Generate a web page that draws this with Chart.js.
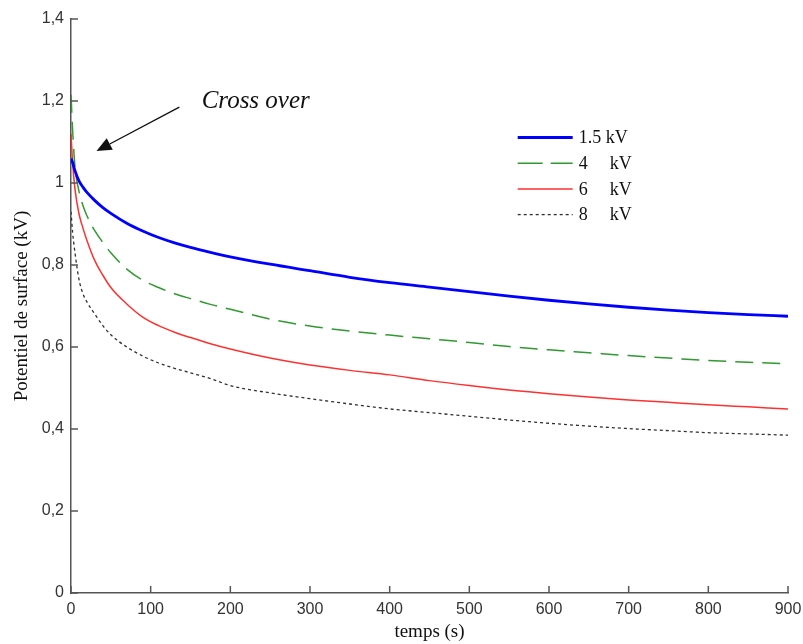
<!DOCTYPE html>
<html><head><meta charset="utf-8">
<script src="https://cdn.jsdelivr.net/npm/chart.js@4"></script>
<style>html,body{margin:0;padding:0;background:#fff}#wrap{width:803px;height:644px;position:relative}</style>
</head><body><div id="wrap"><canvas id="c"></canvas></div>
<script>
const times = [0,2,5,10,15,20,30,40,50,70,90,110,130,150,175,200,250,300,350,400,450,500,550,600,650,700,750,800,850,900];
const v15 = [1.06,1.05,1.03,1.005,0.99,0.977,0.957,0.94,0.926,0.902,0.883,0.867,0.854,0.843,0.831,0.82,0.802,0.786,0.77,0.757,0.746,0.735,0.724,0.714,0.705,0.697,0.69,0.684,0.679,0.675];
const v4 = [1.215,1.13,1.04,0.98,0.945,0.92,0.883,0.855,0.83,0.79,0.763,0.745,0.73,0.718,0.704,0.692,0.668,0.651,0.639,0.629,0.62,0.611,0.601,0.593,0.586,0.579,0.573,0.567,0.563,0.559];
const v6 = [1.12,1.05,0.985,0.925,0.89,0.86,0.81,0.775,0.745,0.705,0.673,0.652,0.636,0.623,0.608,0.595,0.573,0.556,0.543,0.532,0.518,0.506,0.495,0.486,0.478,0.471,0.465,0.459,0.454,0.449];
const v8 = [0.93,0.88,0.83,0.765,0.73,0.71,0.68,0.652,0.63,0.6,0.578,0.561,0.548,0.537,0.523,0.506,0.488,0.474,0.461,0.449,0.44,0.431,0.422,0.414,0.407,0.401,0.396,0.391,0.388,0.385];
const seriesNames = ['1.5 kV','4', '6', '8'];
const seriesUnit = 'kV';
const xTickValues = [0,100,200,300,400,500,600,700,800,900];
const yTickValues = [0,0.2,0.4,0.6,0.8,1,1.2,1.4];
const yTickLabels = ['0','0,2','0,4','0,6','0,8','1','1,2','1,4'];
const xTitle = 'temps (s)';
const yTitle = 'Potentiel de surface (kV)';
const noteText = 'Cross over';
const notePos = {t:164, v:1.2};
const arrowFrom = {t:136, v:1.185};
const arrowTo = {t:32, v:1.078};

const pts = arr => times.map((t,i)=>({x:t,y:arr[i]}));
const SERIF = '"Liberation Serif","DejaVu Serif","Times New Roman",serif';
const SANS = '"Liberation Sans Narrow","Liberation Sans",Arial,sans-serif';

const styles = [
  {color:'#0000ff', width:2.8, dash:[]},
  {color:'#2f9a2f', width:1.5, dash:[18,9]},
  {color:'#ff3030', width:1.5, dash:[]},
  {color:'#303030', width:1.3, dash:[3,3]}
];
const series = [v15,v4,v6,v8];

const datasets = series.map((s,i)=>({
  label: seriesNames[i],
  data: pts(s),
  borderColor: styles[i].color,
  borderWidth: styles[i].width,
  borderDash: styles[i].dash,
  pointRadius: 0,
  fill: false,
  cubicInterpolationMode: 'monotone'
}));

const extras = {
  id:'extras',
  afterDatasetsDraw(chart){
    const ctx = chart.ctx, xs = chart.scales.x, ys = chart.scales.y, ca = chart.chartArea;
    ctx.save();
    // inward ticks
    ctx.strokeStyle = '#555'; ctx.lineWidth = 1.5;
    xTickValues.forEach(v=>{
      const px = xs.getPixelForValue(v);
      ctx.beginPath(); ctx.moveTo(px, ca.bottom); ctx.lineTo(px, ca.bottom-7); ctx.stroke();
    });
    yTickValues.forEach(v=>{
      const py = ys.getPixelForValue(v);
      ctx.beginPath(); ctx.moveTo(ca.left, py); ctx.lineTo(ca.left+7, py); ctx.stroke();
    });
    // legend
    const lx0 = ca.left + 0.623*(ca.right-ca.left);
    const lx1 = lx0 + 55;
    const ly0 = ca.top + 118.5, dy = 25.7;
    ctx.font = '18px ' + SERIF;
    ctx.textBaseline = 'middle';
    ctx.fillStyle = '#111';
    datasets.forEach((d,i)=>{
      const y = ly0 + i*dy;
      ctx.strokeStyle = styles[i].color;
      ctx.lineWidth = styles[i].width;
      ctx.setLineDash(i===1?[25,8]:styles[i].dash);
      ctx.beginPath(); ctx.moveTo(lx0,y); ctx.lineTo(lx1,y); ctx.stroke();
      ctx.setLineDash([]);
      ctx.fillText(seriesNames[i], lx1+6, y+1);
      if (i!==0) ctx.fillText(seriesUnit, lx1+37, y+1);
    });
    // annotation
    ctx.font = 'italic 25px ' + SERIF;
    ctx.fillStyle = '#111';
    ctx.textBaseline = 'middle';
    ctx.fillText(noteText, xs.getPixelForValue(notePos.t), ys.getPixelForValue(notePos.v));
    const ax0 = xs.getPixelForValue(arrowFrom.t), ay0 = ys.getPixelForValue(arrowFrom.v);
    const ax1 = xs.getPixelForValue(arrowTo.t), ay1 = ys.getPixelForValue(arrowTo.v);
    const ang = Math.atan2(ay1-ay0, ax1-ax0);
    const hl = 15, hw = 6.5;
    const bx = ax1 - hl*Math.cos(ang), by = ay1 - hl*Math.sin(ang);
    ctx.strokeStyle = '#111'; ctx.lineWidth = 1.4;
    ctx.beginPath(); ctx.moveTo(ax0,ay0); ctx.lineTo(bx,by); ctx.stroke();
    ctx.beginPath();
    ctx.moveTo(ax1,ay1);
    ctx.lineTo(bx + hw*Math.sin(ang), by - hw*Math.cos(ang));
    ctx.lineTo(bx - hw*Math.sin(ang), by + hw*Math.cos(ang));
    ctx.closePath(); ctx.fillStyle = '#111'; ctx.fill();
    ctx.restore();
  }
};

new Chart(document.getElementById('c'), {
  type: 'line',
  data: { datasets },
  options: {
    responsive: true,
    maintainAspectRatio: false,
    animation: false,
    devicePixelRatio: 1,
    layout: { padding: { left: 8, right: 0, top: 19, bottom: 0 } },
    plugins: { legend: { display: false }, tooltip: { enabled: false } },
    scales: {
      x: {
        type: 'linear', min: 0, max: 900,
        afterBuildTicks: s => { s.ticks = xTickValues.map(v=>({value:v})); },
        ticks: { color: '#333', font: { family: SANS, size: 16 }, padding: 7, maxRotation: 0 },
        grid: { display: false, drawTicks: false },
        border: { display: true, color: '#555', width: 1.5 },
        title: { display: true, text: xTitle, color: '#111', font: { family: SERIF, size: 19 }, padding: { top: 2, bottom: 1 } },
        afterFit: s => { s.height = 51; s.paddingRight = 15; s.paddingLeft = 0; }
      },
      y: {
        type: 'linear', min: 0, max: 1.4,
        afterBuildTicks: s => { s.ticks = yTickValues.map(v=>({value:v})); },
        ticks: { color: '#333', font: { family: SANS, size: 16 }, padding: 7,
          callback: (v, i) => yTickLabels[i] },
        grid: { display: false, drawTicks: false },
        border: { display: true, color: '#555', width: 1.5 },
        title: { display: true, text: yTitle, color: '#111', font: { family: SERIF, size: 19 }, padding: { top: 3, bottom: 4 } },
        afterFit: s => { s.width = 63; }
      }
    }
  },
  plugins: [extras]
});
</script></body></html>
